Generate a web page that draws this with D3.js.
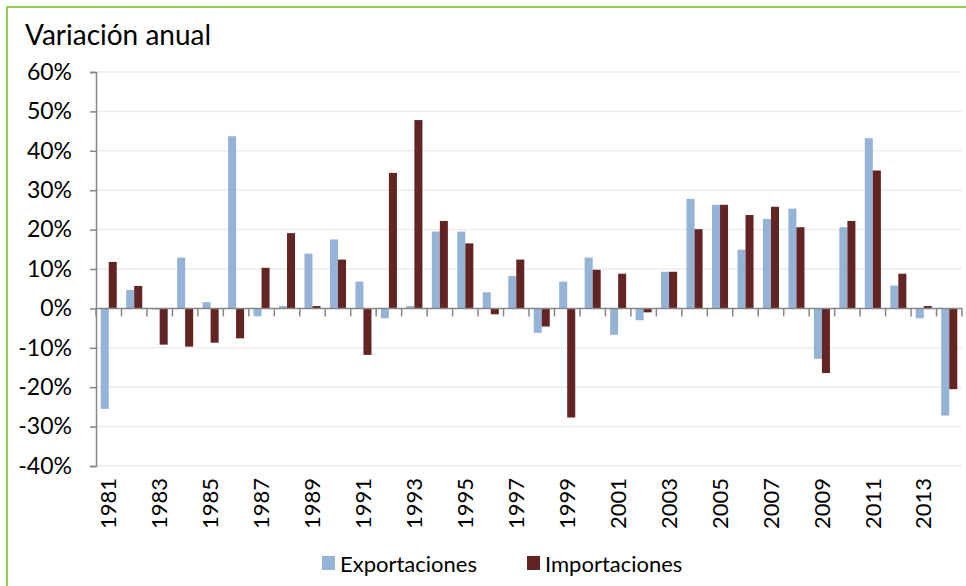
<!DOCTYPE html>
<html>
<head>
<meta charset="utf-8">
<script src="https://cdn.jsdelivr.net/npm/d3@7"></script>
<style>
  body { margin: 0; background: #fff; }
  text { font-family: Lato, "Open Sans", sans-serif; fill: #000; }
</style>
</head>
<body>
<div id="chart"></div>
<script>
// años del eje X
const years = [1981, 1982, 1983, 1984, 1985, 1986, 1987, 1988, 1989, 1990,
  1991, 1992, 1993, 1994, 1995, 1996, 1997, 1998, 1999, 2000,
  2001, 2002, 2003, 2004, 2005, 2006, 2007, 2008, 2009, 2010,
  2011, 2012, 2013, 2014];
// variación anual en %
const exportaciones = [-25.5, 4.7, -0.3, 12.9, 1.6, 43.7, -2.0, 0.6, 13.9, 17.5,
  6.8, -2.5, 0.6, 19.5, 19.5, 4.1, 8.2, -6.2, 6.8, 12.9,
  -6.7, -3.0, 9.3, 27.8, 26.3, 14.9, 22.7, 25.3, -12.8, 20.6,
  43.2, 5.8, -2.5, -27.2];
const importaciones = [11.8, 5.7, -9.2, -9.7, -8.7, -7.6, 10.3, 19.1, 0.6, 12.4,
  -11.8, 34.4, 47.8, 22.2, 16.5, -1.5, 12.4, -4.6, -27.7, 9.8,
  8.8, -1.0, 9.3, 20.1, 26.3, 23.7, 25.8, 20.6, -16.4, 22.2,
  35.0, 8.8, 0.6, -20.5];
const yTicks = [-40, -30, -20, -10, 0, 10, 20, 30, 40, 50, 60];
const series = ["Exportaciones", "Importaciones"];
const colors = { Exportaciones: "#95b3d7", Importaciones: "#632523" };

const width = 966, height = 586;
const plot = { left: 96, right: 962, top: 72, bottom: 466 };

const svg = d3.select("#chart").append("svg")
  .attr("width", width)
  .attr("height", height);

// marco verde
svg.append("rect")
  .attr("x", 7).attr("y", 7)
  .attr("width", 980).attr("height", 600)
  .attr("fill", "none")
  .attr("stroke", "#92d050")
  .attr("stroke-width", 2);

svg.append("text")
  .attr("x", 25).attr("y", 45)
  .attr("font-size", 28)
  .text("Variación anual");

const x = d3.scaleBand()
  .domain(years)
  .range([plot.left, plot.right])
  .paddingInner(0.37)
  .paddingOuter(0.185);

const x1 = d3.scaleBand()
  .domain(series)
  .range([0, x.bandwidth()]);

const y = d3.scaleLinear()
  .domain([-40, 60])
  .range([plot.bottom, plot.top]);

// líneas de cuadrícula
svg.append("g")
  .selectAll("line")
  .data(yTicks.filter(d => d !== 0))
  .join("line")
    .attr("x1", plot.left).attr("x2", plot.right)
    .attr("y1", d => y(d)).attr("y2", d => y(d))
    .attr("stroke", "#ececec")
    .attr("stroke-width", 1.5);

// eje Y
const yAxis = svg.append("g")
  .attr("transform", `translate(${plot.left},0)`)
  .call(d3.axisLeft(y).tickValues(yTicks).tickFormat(d => d + "%").tickSize(6).tickPadding(18));
yAxis.select(".domain").attr("stroke", "#868686").attr("stroke-width", 1.5);
yAxis.selectAll(".tick line").attr("stroke", "#868686").attr("stroke-width", 1.5);
yAxis.selectAll(".tick text").attr("font-size", 23).attr("font-family", "Lato, sans-serif");

// barras
const rows = years.map((yr, i) => ({ year: yr, Exportaciones: exportaciones[i], Importaciones: importaciones[i] }));
svg.append("g")
  .selectAll("g")
  .data(rows)
  .join("g")
    .attr("transform", d => `translate(${x(d.year)},0)`)
  .selectAll("rect")
  .data(d => series.map(s => ({ key: s, value: d[s] })))
  .join("rect")
    .attr("x", d => x1(d.key))
    .attr("y", d => y(Math.max(0, d.value)))
    .attr("width", x1.bandwidth())
    .attr("height", d => Math.abs(y(d.value) - y(0)))
    .attr("fill", d => colors[d.key]);

// eje X en 0
const step = x.step();
const bounds = years.map(yr => x(yr) - step * 0.185).concat([plot.right]);
const xg = svg.append("g");
xg.append("line")
  .attr("x1", plot.left).attr("x2", plot.right)
  .attr("y1", y(0)).attr("y2", y(0))
  .attr("stroke", "#868686").attr("stroke-width", 1.5);
xg.selectAll(".tk")
  .data(bounds)
  .join("line")
    .attr("class", "tk")
    .attr("x1", d => d).attr("x2", d => d)
    .attr("y1", y(0)).attr("y2", y(0) + 8)
    .attr("stroke", "#868686").attr("stroke-width", 1.5);

// etiquetas de años (uno sí, uno no)
svg.append("g")
  .selectAll("text")
  .data(years.filter((yr, i) => i % 2 === 0))
  .join("text")
    .attr("transform", d => `translate(${x(d) + x.bandwidth() / 2},${plot.bottom + 12}) rotate(-90)`)
    .attr("text-anchor", "end")
    .attr("dy", "0.35em")
    .attr("font-size", 22)
    .text(d => d);

// leyenda
const legend = svg.append("g");
const legendX = [322, 527];
series.forEach((s, i) => {
  legend.append("rect")
    .attr("x", legendX[i]).attr("y", 556)
    .attr("width", 13).attr("height", 14)
    .attr("fill", colors[s]);
  legend.append("text")
    .attr("x", legendX[i] + 18).attr("y", 572)
    .attr("font-size", 22)
    .text(s);
});
</script>
</body>
</html>
